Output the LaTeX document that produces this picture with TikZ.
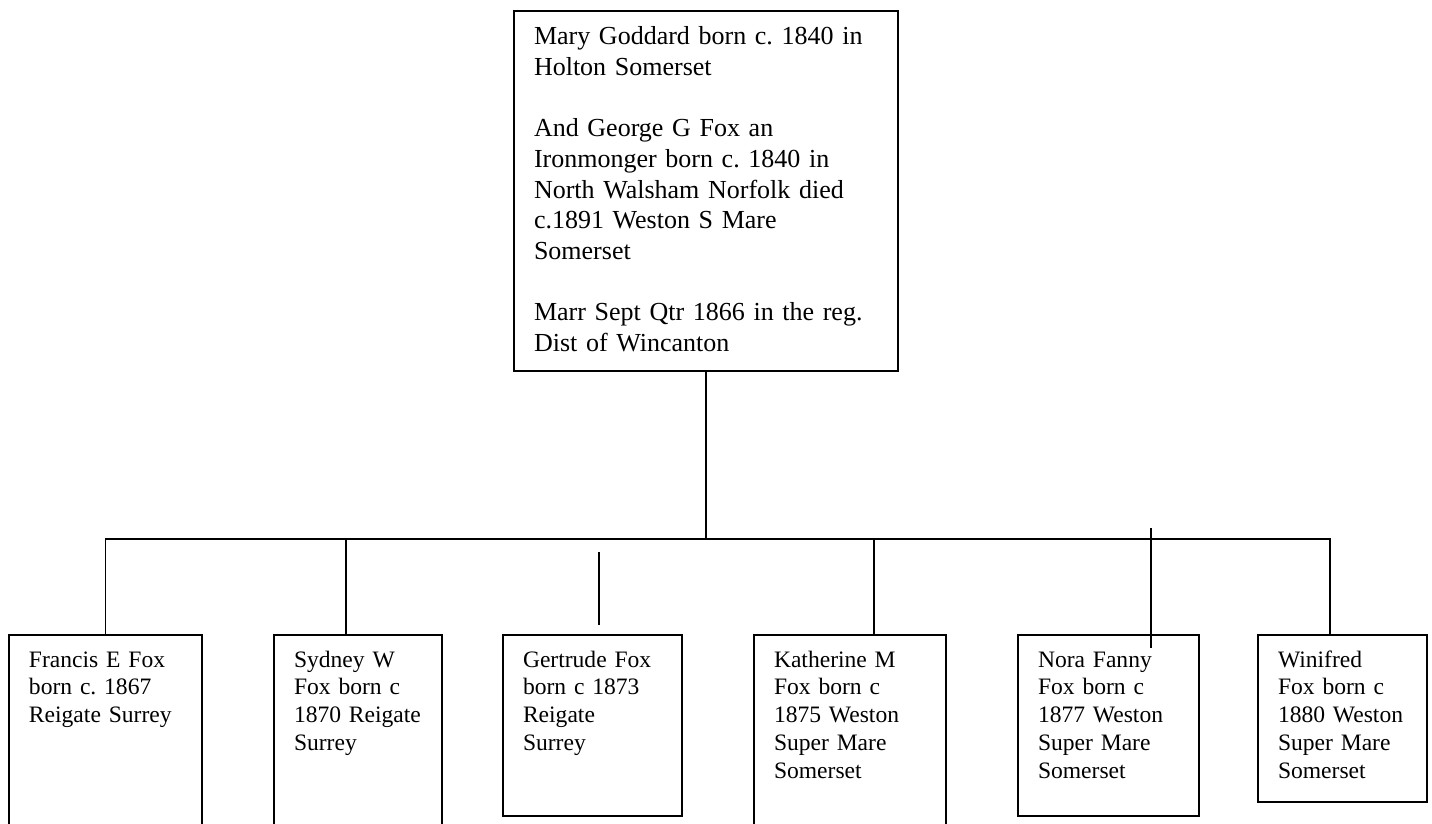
\documentclass[tikz,border=0pt]{standalone}
\usepackage{fontspec}
\setmainfont{Liberation Serif}

\begin{document}
\frenchspacing
\begin{tikzpicture}[x=0.45pt, y=-0.45pt, line width=0.75pt,
		person/.style={draw, anchor=north west, align=left, inner xsep=9pt, inner ysep=0pt, outer sep=0pt},
		parent/.style={person, font=\fontsize{11.7}{13.8}\selectfont, text height=15.3pt},
		child/.style={person, font=\fontsize{10.6}{12.5}\selectfont, text height=14.4pt}]
		\clip (0,0) rectangle (1432,824);

		% the couple
		\node[parent, text width=154.8pt, text depth=146.7pt] (parents) at (514,11) {Mary Goddard born c. 1840 in\\Holton Somerset\\[13.8pt]And George G Fox an\\Ironmonger born c. 1840 in\\North Walsham Norfolk died\\c.1891 Weston S Mare\\Somerset\\[13.8pt]Marr Sept Qtr 1866 in the reg.\\Dist of Wincanton};

		% the children
		\node[child, text width=68.85pt, text depth=81pt] (francis) at (9,635) {Francis E Fox\\born c. 1867\\Reigate Surrey};
		\node[child, text width=57.6pt, text depth=81pt] (sydney) at (274,635) {Sydney W\\Fox born c\\1870~Reigate\\Surrey};
		\node[child, text width=62.55pt, text depth=67.05pt] (gertrude) at (503,635) {Gertrude Fox\\born c 1873\\Reigate\\Surrey};
		\node[child, text width=68.4pt, text depth=81pt] (katherine) at (754,635) {Katherine M\\Fox born c\\1875 Weston\\Super Mare\\Somerset};
		\node[child, text width=63.45pt, text depth=67.05pt] (nora) at (1018,635) {Nora Fanny\\Fox born c\\1877 Weston\\Super Mare\\Somerset};
		\node[child, text width=58.05pt, text depth=60.75pt] (winifred) at (1258,635) {Winifred\\Fox born c\\1880~Weston\\Super Mare\\Somerset};

		% bus line
		\coordinate (bus) at (706,539);
		\coordinate (busL) at (francis.north |- bus);
		\coordinate (busR) at (1330,539);
		\draw (parents.south) -- (bus);
		\draw (francis.north) -- (busL) -- (busR) -- (busR |- winifred.north);

		% drops
		\coordinate (dS) at (346,539);
		\coordinate (dK) at (874,539);
		\draw (dS) -- (dS |- sydney.north);
		\draw (dK) -- (dK |- katherine.north);

		% loose strokes
		\coordinate (gTop) at (599,552);
		\coordinate (gBot) at (599,625);
		\coordinate (nTop) at (1151,528);
		\coordinate (nBot) at (1151,648);
		\draw (gTop) -- (gBot);
		\draw (nTop) -- (nBot);
	\end{tikzpicture}
\end{document}
